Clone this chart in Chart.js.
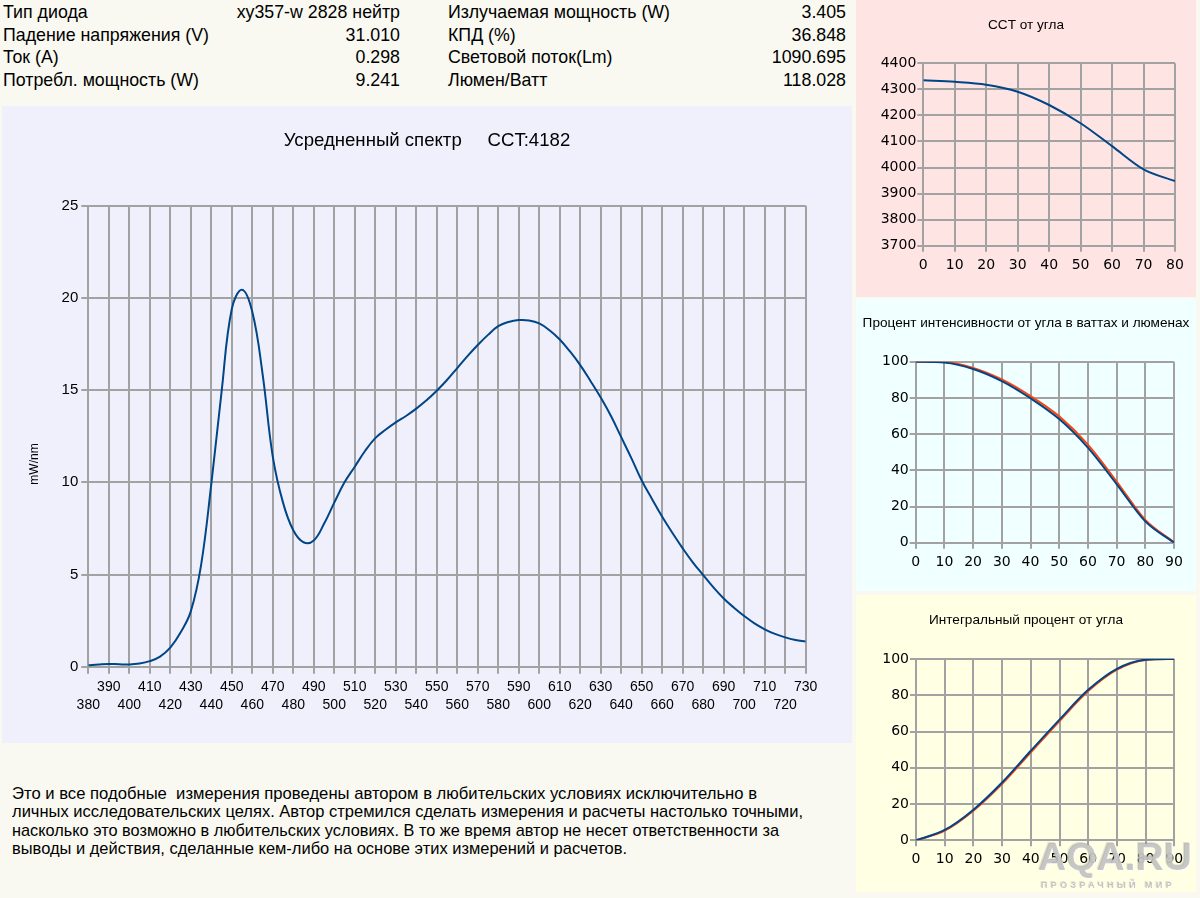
<!DOCTYPE html>
<html lang="ru">
<head>
<meta charset="UTF-8">
<title>Спектр светодиода</title>
<script src="https://cdn.jsdelivr.net/npm/chart.js"></script>
<style>
  body { margin: 0; width: 1200px; height: 898px; background: #f9f9f1; position: relative; overflow: hidden;
         font-family: "Liberation Sans", Arial, sans-serif; color: #000; }
  .panel { position: absolute; }
  .col { position: absolute; top: 1px; }
  .row { display: flex; justify-content: space-between; height: 22.7px; line-height: 22.7px; font-size: 17.8px; white-space: nowrap; }
  #note { position: absolute; left: 12px; top: 785px; font-size: 17px; }
  #note div { height: 18.4px; line-height: 18.4px; white-space: pre; }
  #note span { display: inline-block; transform-origin: 0 50%; }
  #wm { position: absolute; left: 1038px; top: 835px; color: rgba(165,165,165,0.6); font-weight: bold; text-shadow: 1px 1px 0 rgba(255,255,255,0.8), -1px -1px 0 rgba(140,140,140,0.25); }
  #wm .big { font-size: 39px; letter-spacing: 0px; line-height: 44px; }
  #wm .small { font-size: 9px; letter-spacing: 3.4px; line-height: 12px; margin-left: 3px; }
</style>
</head>
<body>

<div id="infoLeft" class="col" style="left:3px;width:397px"></div>
<div id="infoRight" class="col" style="left:448px;width:398px"></div>

<div class="panel" style="left:2px;top:106px;width:850px;height:637px;background:#f0f0fd">
  <canvas id="spec" width="850" height="637"></canvas>
</div>
<div class="panel" style="left:856px;top:0;width:340px;height:297px;background:#ffe4e4">
  <canvas id="cct" width="340" height="297"></canvas>
</div>
<div class="panel" style="left:856px;top:299px;width:340px;height:292px;background:#f0ffff">
  <canvas id="inten" width="340" height="292"></canvas>
</div>
<div class="panel" style="left:856px;top:595px;width:340px;height:297px;background:#ffffe4">
  <canvas id="integ" width="340" height="297"></canvas>
</div>

<div id="note"></div>
<div id="wm"><div class="big">AQA.RU</div><div class="small">ПРОЗРАЧНЫЙ МИР</div></div>

<script>
  // параметры диода
  const infoLabelsLeft = ['Тип диода', 'Падение напряжения (V)', 'Ток (A)', 'Потребл. мощность (W)']
  const infoValuesLeft = ['xy357-w 2828 нейтр', '31.010', '0.298', '9.241']
  const infoLabelsRight = ['Излучаемая мощность (W)', 'КПД (%)', 'Световой поток(Lm)', 'Люмен/Ватт']
  const infoValuesRight = ['3.405', '36.848', '1090.695', '118.028']

  // усредненный спектр, mW/nm
  const wavelengths = [380, 385, 390, 395, 400, 405, 410, 415, 420, 425, 430, 435, 440, 445, 450, 455, 460, 465,
    470, 475, 480, 485, 490, 495, 500, 505, 510, 515, 520, 525, 530, 535, 540, 545, 550, 555, 560, 565, 570, 575,
    580, 585, 590, 595, 600, 605, 610, 615, 620, 625, 630, 635, 640, 645, 650, 655, 660, 665, 670, 675, 680, 685,
    690, 695, 700, 705, 710, 715, 720, 725, 730]
  const spectrum = [0.08, 0.12, 0.15, 0.13, 0.12, 0.17, 0.30, 0.55, 1.03, 1.85, 3.0, 5.5, 9.9, 14.9, 19.4, 20.45, 19.25, 15.9,
    11.4, 8.9, 7.4, 6.75, 6.85, 7.75, 8.9, 10.0, 10.85, 11.7, 12.4, 12.85, 13.25, 13.6, 14.0, 14.45, 14.97, 15.55, 16.2, 16.85, 17.45, 18.0,
    18.47, 18.7, 18.8, 18.78, 18.62, 18.25, 17.75, 17.1, 16.36, 15.5, 14.6, 13.6, 12.45, 11.3, 10.1, 9.1, 8.13, 7.25, 6.42, 5.65, 4.97, 4.3,
    3.7, 3.2, 2.75, 2.35, 2.03, 1.78, 1.59, 1.45, 1.36]

  // CCT от угла
  const cctAngles = [0, 10, 20, 30, 40, 50, 60, 70, 80]
  const cctValues = [4335, 4329, 4318, 4291, 4240, 4170, 4082, 3993, 3948]

  // интенсивность и интегральный процент от угла
  const angles = [0, 10, 20, 30, 40, 50, 60, 70, 80, 90]
  const intensityLm = [100, 99.5, 96, 89.3, 79.8, 68.3, 52.5, 32.4, 11.8, 0]
  const intensityW = [100, 99.8, 96.6, 90.2, 81, 69.8, 54.2, 33.8, 12.6, 0.3]
  const integralLm = [0, 5.7, 16.9, 31.9, 49.4, 66.6, 83, 94.6, 99.6, 100]
  const integralW = [0, 5.3, 16.3, 31.1, 48.5, 65.8, 82.3, 94.1, 99.5, 100]

  const noteLines = [
    'Это и все подобные  измерения проведены автором в любительских условиях исключительно в',
    'личных исследовательских целях. Автор стремился сделать измерения и расчеты настолько точными,',
    'насколько это возможно в любительских условиях. В то же время автор не несет ответственности за',
    'выводы и действия, сделанные кем-либо на основе этих измерений и расчетов.'
  ]
  const noteWidths = [745, 791, 767, 615]

  const GRID = '#a2a2a2'
  const FONT = "'Liberation Sans', Arial, sans-serif"
  const BLUE = '#004586'
  const ORANGE = '#ff420e'

  Chart.defaults.font.family = FONT
  Chart.defaults.color = '#000'

  // таблица параметров
  function fillInfo(el, labels, values) {
    labels.forEach((l, i) => {
      const row = document.createElement('div')
      row.className = 'row'
      row.innerHTML = '<span></span><span></span>'
      row.children[0].textContent = l
      row.children[1].textContent = values[i]
      el.appendChild(row)
    })
  }
  fillInfo(document.getElementById('infoLeft'), infoLabelsLeft, infoValuesLeft)
  fillInfo(document.getElementById('infoRight'), infoLabelsRight, infoValuesRight)

  // текст внизу, узкий шрифт
  const note = document.getElementById('note')
  noteLines.forEach((t, i) => {
    const d = document.createElement('div')
    const s = document.createElement('span')
    s.textContent = t
    d.appendChild(s)
    note.appendChild(d)
    const w = s.getBoundingClientRect().width
    s.style.transform = 'scaleX(' + (noteWidths[i] / w) + ')'
  })

  function pts(xs, ys) {
    return xs.map((x, i) => ({ x: x, y: ys[i] }))
  }

  function line(xs, ys, color, smooth) {
    const ds = { data: pts(xs, ys), borderColor: color, borderWidth: 2, pointRadius: 0 }
    if (smooth) ds.tension = 0.4
    else ds.cubicInterpolationMode = 'monotone'
    return ds
  }

  // пустая ось справа: держит отступ, заголовок остается по центру холста
  function spacer(w) {
    return {
      position: 'right', display: true,
      grid: { display: false }, border: { display: false }, ticks: { display: false },
      afterFit: s => { s.width = w }
    }
  }

  // подпись оси Y основного графика
  const yTitle = {
    id: 'yTitle',
    afterDraw(chart) {
      const ctx = chart.ctx
      ctx.save()
      ctx.translate(33, 358)
      ctx.rotate(-Math.PI / 2)
      ctx.font = '12px ' + FONT
      ctx.fillStyle = '#000'
      ctx.textAlign = 'center'
      ctx.textBaseline = 'middle'
      ctx.fillText('mW/nm', 0, 0)
      ctx.restore()
    }
  }

  new Chart(document.getElementById('spec'), {
    type: 'line',
    data: { datasets: [line(wavelengths, spectrum, BLUE, true)] },
    options: {
      responsive: false,
      animation: false,
      layout: { padding: 0 },
      plugins: {
        legend: { display: false },
        tooltip: { enabled: false },
        title: {
          display: true,
          text: 'Усредненный спектр     CCT:4182',
          font: { size: 18.6, weight: 'normal' },
          color: '#000',
          padding: { top: 23.5, bottom: 54 }
        }
      },
      scales: {
        x: {
          type: 'linear', min: 380, max: 730,
          grid: { color: GRID, lineWidth: 2, tickLength: 7 },
          border: { color: GRID, width: 2 },
          ticks: {
            stepSize: 10, autoSkip: false, maxRotation: 0, minRotation: 0, padding: 4,
            font: { size: 14, lineHeight: 1.3 },
            callback: v => (v % 20 === 0) ? ['', String(v)] : [String(v), '']
          },
          afterFit: s => { s.height = 76.3 }
        },
        y: {
          min: 0, max: 25,
          grid: { color: GRID, lineWidth: 2, tickLength: 7 },
          border: { color: GRID, width: 2 },
          ticks: { stepSize: 5, padding: 3, font: { size: 15 } },
          afterFit: s => { s.width = 86.3 }
        },
        pad: spacer(46.3)
      }
    },
    plugins: [yTitle]
  })

  // маленькие графики справа
  function smallChart(id, title, datasets, xMax, yMin, yMax, yStep, labelEvery, box) {
    new Chart(document.getElementById(id), {
      type: 'line',
      data: { datasets: datasets },
      options: {
        responsive: false,
        animation: false,
        layout: { padding: 0 },
        plugins: {
          legend: { display: false },
          tooltip: { enabled: false },
          title: {
            display: true, text: title,
            font: { size: 13.6, weight: 'normal' }, color: '#000',
            padding: { top: box.titleTop, bottom: box.titleBottom }
          }
        },
        scales: {
          x: {
            type: 'linear', min: 0, max: xMax,
            grid: { color: GRID, lineWidth: 2, tickLength: 6 },
            border: { color: GRID, width: 2 },
            ticks: { stepSize: 10, autoSkip: false, maxRotation: 0, padding: 5, font: { size: 14, family: "'DejaVu Sans', sans-serif" } },
            afterFit: s => { s.height = box.xHeight }
          },
          y: {
            min: yMin, max: yMax,
            grid: { color: GRID, lineWidth: 2, tickLength: 6 },
            border: { color: GRID, width: 2 },
            ticks: {
              stepSize: yStep, padding: 1, font: { size: 14, family: "'DejaVu Sans', sans-serif" },
              callback: v => ((v - yMin) % labelEvery === 0) ? String(v) : ''
            },
            afterFit: s => { s.width = box.left }
          },
          pad: spacer(box.right)
        }
      }
    })
  }

  smallChart('cct', 'CCT от угла', [line(cctAngles, cctValues, BLUE)], 80, 3700, 4400, 100, 100,
    { left: 67.3, right: 21, titleTop: 16.6, titleBottom: 30.4, xHeight: 51.3 })

  smallChart('inten', 'Процент интенсивности от угла в ваттах и люменах',
    [line(angles, intensityLm, BLUE), line(angles, intensityW, ORANGE)], 90, 0, 100, 10, 20,
    { left: 59.7, right: 22, titleTop: 15.6, titleBottom: 30.8, xHeight: 48.3 })

  smallChart('integ', 'Интегральный процент от угла',
    [line(angles, integralLm, BLUE), line(angles, integralW, ORANGE)], 90, 0, 100, 10, 20,
    { left: 60, right: 21.7, titleTop: 17.3, titleBottom: 30.4, xHeight: 51.7 })
</script>
</body>
</html>
